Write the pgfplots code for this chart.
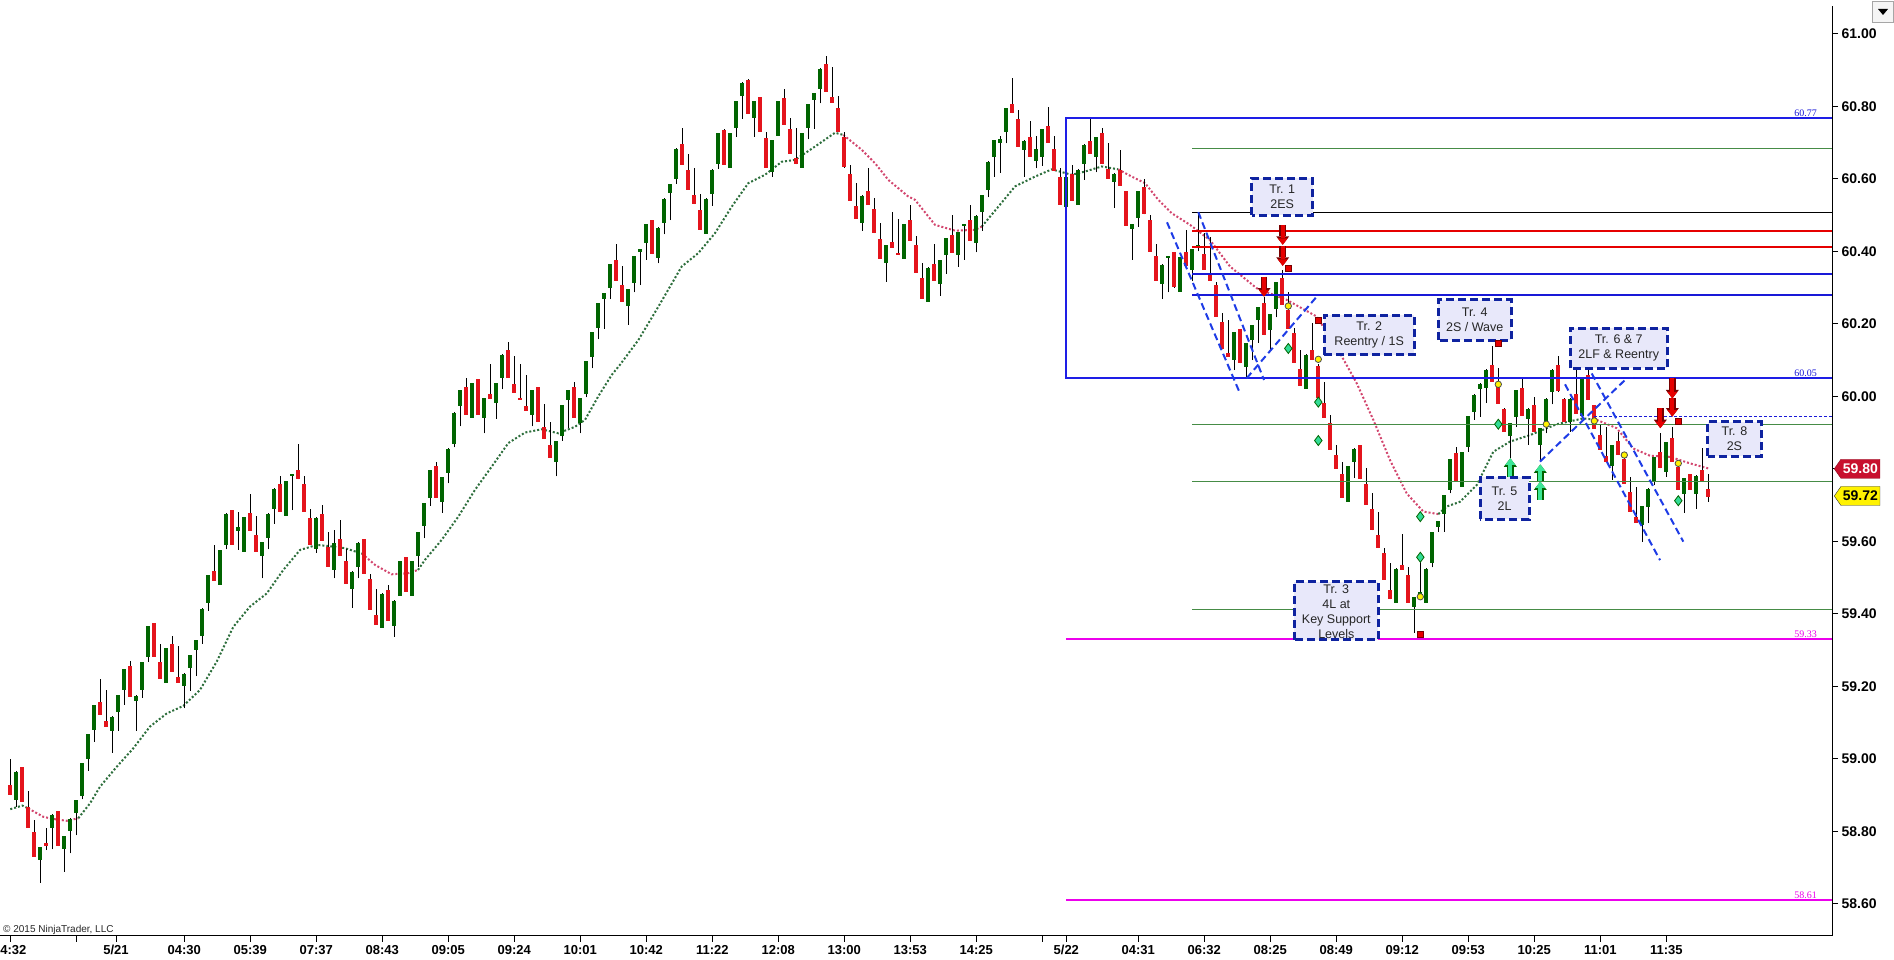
\documentclass[border=0pt]{standalone}
\usepackage{pgfplots}
\pgfplotsset{compat=1.18}
\usepackage{pgfplotstable}
\usepackage{fontspec}
\setmainfont{Liberation Sans}
\newfontfamily\serifsmall{Liberation Serif}
\usetikzlibrary{arrows.meta,shapes.symbols}
\definecolor{upg}{RGB}{0,100,0}
\definecolor{dnr}{RGB}{228,20,28}
\definecolor{boxb}{RGB}{30,30,230}
\definecolor{hblue}{RGB}{25,25,215}
\definecolor{hred}{RGB}{230,0,0}
\definecolor{hgreen}{RGB}{70,140,70}
\definecolor{mag}{RGB}{236,0,236}
\definecolor{magreen}{RGB}{45,110,60}
\definecolor{mared}{RGB}{210,70,110}
\definecolor{trbord}{RGB}{15,35,160}
\definecolor{trfill}{RGB}{232,232,250}
\definecolor{trend}{RGB}{30,60,230}
\definecolor{diam}{RGB}{50,220,150}
\definecolor{arrg}{RGB}{60,230,150}
\definecolor{tagred}{RGB}{200,16,46}
\definecolor{darkred}{RGB}{120,0,0}

\pgfplotstableread{
x o h l c
10.3 58.928 58.999 58.900 58.900
16.3 58.889 58.966 58.868 58.966
22.3 58.978 58.978 58.882 58.882
28.3 58.866 58.911 58.810 58.810
34.3 58.799 58.831 58.730 58.730
40.3 58.721 58.757 58.658 58.757
46.3 58.768 58.809 58.748 58.760
52.3 58.810 58.847 58.750 58.847
58.3 58.856 58.856 58.759 58.759
64.3 58.753 58.787 58.689 58.787
70.3 58.802 58.836 58.739 58.836
76.3 58.851 58.886 58.789 58.886
82.3 58.900 58.989 58.888 58.989
88.3 58.999 59.068 58.967 59.068
94.3 59.079 59.148 59.047 59.148
100.3 59.156 59.220 59.121 59.121
106.3 59.107 59.190 59.090 59.090
112.3 59.079 59.118 59.017 59.118
118.3 59.130 59.176 59.078 59.176
124.3 59.190 59.248 59.149 59.248
130.3 59.256 59.270 59.171 59.171
136.3 59.160 59.175 59.078 59.175
142.3 59.190 59.267 59.169 59.267
148.3 59.282 59.366 59.268 59.366
154.3 59.376 59.376 59.282 59.282
160.3 59.267 59.318 59.221 59.221
166.3 59.210 59.307 59.210 59.307
172.3 59.317 59.339 59.240 59.240
178.3 59.228 59.311 59.210 59.210
184.3 59.202 59.236 59.139 59.236
190.3 59.251 59.286 59.188 59.286
196.3 59.300 59.328 59.228 59.328
202.3 59.340 59.415 59.318 59.415
208.3 59.431 59.507 59.408 59.507
214.3 59.519 59.590 59.491 59.491
220.3 59.481 59.576 59.481 59.576
226.3 59.590 59.677 59.578 59.677
232.3 59.686 59.686 59.590 59.590
238.3 59.630 59.682 59.576 59.640
244.3 59.571 59.668 59.571 59.668
250.3 59.677 59.730 59.629 59.629
256.3 59.618 59.670 59.571 59.571
262.3 59.560 59.598 59.498 59.598
268.3 59.610 59.677 59.578 59.677
274.3 59.689 59.746 59.649 59.746
280.3 59.758 59.780 59.682 59.682
286.3 59.671 59.766 59.671 59.766
292.3 59.782 59.786 59.686 59.786
298.3 59.797 59.868 59.771 59.771
304.3 59.758 59.780 59.682 59.682
310.3 59.666 59.688 59.590 59.590
316.3 59.579 59.666 59.568 59.666
322.3 59.677 59.700 59.602 59.602
328.3 59.585 59.627 59.530 59.530
334.3 59.521 59.631 59.498 59.597
340.3 59.607 59.659 59.561 59.561
346.3 59.546 59.578 59.482 59.482
352.3 59.469 59.518 59.417 59.518
358.3 59.530 59.597 59.498 59.597
364.3 59.607 59.607 59.512 59.512
370.3 59.496 59.509 59.411 59.411
376.3 59.397 59.469 59.371 59.371
382.3 59.363 59.457 59.363 59.457
388.3 59.466 59.480 59.381 59.381
394.3 59.369 59.438 59.337 59.438
400.3 59.450 59.546 59.450 59.546
406.3 59.556 59.556 59.461 59.461
412.3 59.450 59.546 59.450 59.546
418.3 59.561 59.626 59.530 59.626
424.3 59.641 59.705 59.608 59.705
430.3 59.721 59.797 59.698 59.797
436.3 59.808 59.819 59.721 59.721
442.3 59.710 59.778 59.679 59.778
448.3 59.790 59.857 59.760 59.857
454.3 59.870 59.956 59.859 59.956
460.3 59.972 60.018 59.917 60.018
466.3 60.027 60.050 59.949 59.949
472.3 59.941 60.036 59.941 60.036
478.3 60.047 60.047 59.949 59.949
484.3 59.941 59.995 59.898 59.995
490.3 60.007 60.089 59.992 59.992
496.3 59.981 60.036 59.938 60.036
502.3 60.052 60.116 60.019 60.116
508.3 60.128 60.149 60.052 60.052
514.3 60.036 60.110 60.010 60.010
520.3 59.995 60.089 59.992 59.992
526.3 59.976 60.059 59.961 59.961
532.3 59.949 60.018 59.917 60.018
538.3 60.027 60.027 59.930 59.930
544.3 59.915 59.979 59.882 59.882
550.3 59.866 59.928 59.831 59.831
556.3 59.820 59.877 59.779 59.877
562.3 59.892 59.976 59.878 59.976
568.3 59.990 60.018 59.912 60.018
574.3 60.027 60.039 59.941 59.941
580.3 59.928 59.995 59.898 59.995
586.3 60.008 60.098 59.997 60.098
592.3 60.110 60.177 60.077 60.177
598.3 60.190 60.257 60.157 60.257
604.3 60.269 60.286 60.186 60.286
610.3 60.300 60.365 60.268 60.365
616.3 60.376 60.420 60.319 60.319
622.3 60.307 60.360 60.261 60.261
628.3 60.250 60.296 60.197 60.296
634.3 60.312 60.387 60.287 60.387
640.3 60.399 60.406 60.307 60.406
646.3 60.422 60.475 60.376 60.475
652.3 60.486 60.486 60.392 60.392
658.3 60.381 60.466 60.367 60.466
664.3 60.480 60.546 60.447 60.546
670.3 60.560 60.586 60.486 60.586
676.3 60.601 60.684 60.586 60.684
682.3 60.696 60.739 60.640 60.640
688.3 60.626 60.668 60.571 60.571
694.3 60.555 60.629 60.530 60.530
700.3 60.516 60.557 60.461 60.461
706.3 60.450 60.546 60.450 60.546
712.3 60.558 60.626 60.526 60.626
718.3 60.640 60.726 60.627 60.726
724.3 60.737 60.737 60.640 60.640
730.3 60.632 60.726 60.632 60.726
736.3 60.742 60.815 60.716 60.815
742.3 60.829 60.866 60.765 60.866
748.3 60.874 60.874 60.781 60.781
754.3 60.769 60.815 60.716 60.815
760.3 60.825 60.825 60.730 60.730
766.3 60.714 60.728 60.631 60.631
772.3 60.620 60.707 60.606 60.707
778.3 60.719 60.815 60.719 60.815
784.3 60.825 60.848 60.750 60.750
790.3 60.737 60.767 60.670 60.670
796.3 60.657 60.739 60.640 60.640
802.3 60.631 60.726 60.631 60.726
808.3 60.742 60.806 60.709 60.806
814.3 60.817 60.836 60.738 60.836
820.3 60.850 60.905 60.808 60.905
826.3 60.917 60.939 60.840 60.840
832.3 60.825 60.908 60.810 60.810
838.3 60.794 60.829 60.730 60.730
844.3 60.716 60.730 60.631 60.631
850.3 60.615 60.638 60.539 60.539
856.3 60.525 60.588 60.491 60.491
862.3 60.479 60.554 60.456 60.554
868.3 60.566 60.629 60.528 60.528
874.3 60.516 60.548 60.450 60.450
880.3 60.436 60.477 60.379 60.379
886.3 60.369 60.417 60.316 60.417
892.3 60.427 60.508 60.410 60.410
898.3 60.396 60.488 60.392 60.392
904.3 60.379 60.475 60.379 60.475
910.3 60.487 60.528 60.430 60.430
916.3 60.418 60.441 60.341 60.341
922.3 60.326 60.367 60.269 60.269
928.3 60.261 60.356 60.261 60.356
934.3 60.365 60.420 60.319 60.319
940.3 60.310 60.376 60.278 60.376
946.3 60.390 60.436 60.338 60.436
952.3 60.445 60.500 60.397 60.397
958.3 60.390 60.454 60.358 60.454
964.3 60.471 60.475 60.376 60.475
970.3 60.487 60.528 60.430 60.430
976.3 60.422 60.499 60.397 60.499
982.3 60.510 60.556 60.457 60.556
988.3 60.569 60.648 60.549 60.648
994.3 60.661 60.707 60.606 60.707
1000.3 60.700 60.718 60.617 60.710
1006.3 60.730 60.795 60.698 60.795
1012.3 60.808 60.879 60.781 60.781
1018.3 60.765 60.790 60.689 60.689
1024.3 60.682 60.707 60.606 60.707
1030.3 60.715 60.760 60.661 60.661
1036.3 60.650 60.718 60.629 60.684
1042.3 60.661 60.737 60.636 60.737
1048.3 60.746 60.799 60.700 60.700
1054.3 60.684 60.718 60.622 60.622
1060.3 60.606 60.629 60.530 60.530
1066.3 60.523 60.606 60.523 60.606
1072.3 60.615 60.638 60.540 60.540
1078.3 60.530 60.626 60.530 60.626
1084.3 60.640 60.695 60.597 60.695
1090.3 60.707 60.764 60.670 60.670
1096.3 60.661 60.715 60.618 60.715
1102.3 60.726 60.740 60.640 60.640
1108.3 60.629 60.698 60.602 60.602
1114.3 60.591 60.615 60.519 60.615
1120.3 60.625 60.680 60.581 60.581
1126.3 60.567 60.567 60.471 60.471
1132.3 60.461 60.475 60.376 60.475
1138.3 60.491 60.567 60.468 60.567
1144.3 60.577 60.600 60.502 60.502
1150.3 60.487 60.500 60.399 60.399
1156.3 60.387 60.420 60.319 60.319
1162.3 60.310 60.365 60.268 60.365
1168.3 60.381 60.387 60.287 60.387
1174.3 60.397 60.397 60.300 60.300
1180.3 60.289 60.385 60.289 60.385
1186.3 60.397 60.459 60.358 60.358
1192.3 60.349 60.407 60.317 60.407
1198.3 60.412 60.508 60.400 60.418
1204.3 60.395 60.450 60.350 60.350
1210.3 60.335 60.440 60.319 60.319
1216.3 60.307 60.316 60.220 60.220
1222.3 60.206 60.229 60.132 60.132
1228.3 60.119 60.211 60.110 60.110
1234.3 60.100 60.177 60.072 60.177
1240.3 60.185 60.185 60.091 60.091
1246.3 60.082 60.146 60.050 60.146
1252.3 60.155 60.197 60.100 60.197
1258.3 60.211 60.246 60.148 60.246
1264.3 60.257 60.275 60.169 60.169
1270.3 60.183 60.227 60.128 60.227
1276.3 60.243 60.315 60.218 60.315
1282.3 60.326 60.349 60.252 60.252
1288.3 60.240 60.289 60.188 60.188
1294.3 60.176 60.188 60.093 60.093
1300.3 60.077 60.128 60.029 60.029
1306.3 60.022 60.116 60.022 60.116
1312.3 60.128 60.202 60.100 60.100
1318.3 60.086 60.090 59.997 59.997
1324.3 59.981 60.040 59.942 59.942
1330.3 59.926 59.949 59.852 59.852
1336.3 59.838 59.866 59.801 59.801
1342.3 59.788 59.820 59.721 59.721
1348.3 59.709 59.808 59.709 59.808
1354.3 59.820 59.857 59.774 59.857
1360.3 59.866 59.866 59.771 59.771
1366.3 59.760 59.801 59.702 59.702
1372.3 59.688 59.732 59.630 59.630
1378.3 59.618 59.682 59.581 59.581
1384.3 59.569 59.581 59.495 59.495
1390.3 59.466 59.541 59.440 59.440
1396.3 59.431 59.526 59.431 59.526
1402.3 59.537 59.620 59.521 59.521
1408.3 59.507 59.530 59.431 59.431
1414.3 59.420 59.446 59.348 59.446
1420.3 59.440 59.558 59.440 59.460
1426.3 59.431 59.526 59.431 59.526
1432.3 59.539 59.627 59.528 59.627
1438.3 59.640 59.657 59.627 59.657
1444.3 59.675 59.728 59.627 59.728
1450.3 59.742 59.826 59.732 59.826
1456.3 59.843 59.861 59.765 59.765
1462.3 59.751 59.845 59.751 59.845
1468.3 59.861 59.946 59.847 59.946
1474.3 59.959 60.005 59.935 60.005
1480.3 60.020 60.036 59.944 60.036
1486.3 60.024 60.074 59.981 60.074
1492.3 60.086 60.139 60.040 60.040
1498.3 60.031 60.077 59.981 59.981
1504.3 59.967 59.967 59.902 59.902
1510.3 59.891 59.925 59.829 59.925
1516.3 59.944 60.017 59.916 60.017
1522.3 60.024 60.047 59.948 59.948
1528.3 59.939 59.967 59.867 59.967
1534.3 59.976 59.999 59.902 59.902
1540.3 59.867 59.913 59.820 59.913
1546.3 59.921 59.994 59.898 59.994
1552.3 60.013 60.074 59.978 60.074
1558.3 60.086 60.111 60.013 60.013
1564.3 59.994 59.994 59.930 59.930
1570.3 59.930 59.994 59.902 59.994
1576.3 60.008 60.072 59.953 59.953
1582.3 59.946 60.047 59.946 60.047
1588.3 60.059 60.072 59.990 59.990
1594.3 59.976 59.976 59.912 59.912
1600.3 59.895 59.921 59.852 59.852
1606.3 59.836 59.916 59.820 59.820
1612.3 59.810 59.866 59.769 59.866
1618.3 59.877 59.902 59.838 59.838
1624.3 59.829 59.843 59.760 59.760
1630.3 59.737 59.778 59.682 59.682
1636.3 59.668 59.751 59.651 59.651
1642.3 59.645 59.697 59.599 59.697
1648.3 59.695 59.746 59.650 59.746
1654.3 59.764 59.833 59.755 59.833
1660.3 59.847 59.898 59.801 59.801
1666.3 59.792 59.875 59.778 59.875
1672.3 59.886 59.916 59.820 59.820
1678.3 59.806 59.806 59.742 59.742
1684.3 59.732 59.775 59.679 59.775
1690.3 59.785 59.785 59.742 59.742
1696.3 59.732 59.783 59.689 59.783
1702.3 59.797 59.858 59.767 59.767
1708.3 59.746 59.787 59.709 59.723
}\candles

\pgfplotstableread{
x y u v
1264.0 60.330 0 -0.055
1282.7 60.473 0 -0.055
1282.7 60.415 0 -0.055
1660.3 59.967 0 -0.055
1672.3 60.050 0 -0.056
1672.3 59.994 0 -0.050
}\downarrows

\pgfplotstableread{
x y u v
1510.3 59.776 0 0.053
1540.3 59.765 0 0.047
1540.3 59.714 0 0.051
}\uparrows

\begin{document}
\begin{tikzpicture}
\path[use as bounding box] (0pt,-24pt) rectangle (1894pt,936pt);
\begin{axis}[
  at={(0pt,0pt)}, anchor=south west,
  scale only axis, width=1832pt, height=930pt,
  xmin=0, xmax=1832, ymin=58.5112, ymax=61.0767,
  axis x line*=bottom, axis y line*=right,
  axis line style={-, line width=1pt, black},
  clip=false,
  tick align=outside, major tick length=6pt,
  tick style={black, line width=1pt},
  xtick={10.3,76.3,116,184.3,250.3,316.3,382.3,448.3,514.3,580.3,646.3,712.3,778.3,844.3,910.3,976.3,1042.3,1066.3,1138.3,1204.3,1270.3,1336.3,1402.3,1468.3,1534.3,1600.3,1666.3},
  xticklabels={\makebox[0pt][l]{\hspace*{-10pt}4:32},{},5/21,04:30,05:39,07:37,08:43,09:05,09:24,10:01,10:42,11:22,12:08,13:00,13:53,14:25,{},5/22,04:31,06:32,08:25,08:49,09:12,09:53,10:25,11:01,11:35},
  ytick={58.6,58.8,59,59.2,59.4,59.6,59.8,60,60.2,60.4,60.6,60.8,61},
  yticklabels={58.60,58.80,59.00,59.20,59.40,59.60,{},60.00,60.20,60.40,60.60,60.80,61.00},
  xticklabel style={font=\bfseries\fontsize{13}{13}\selectfont},
  yticklabel style={font=\bfseries\fontsize{14}{14}\selectfont},
]
% moving average (dotted)
\addplot[forget plot, magreen, line width=2pt, dash pattern=on 2pt off 2pt] coordinates {(10.3,58.861) (22.3,58.871) (28.3,58.863)};
\addplot[forget plot, mared, line width=2pt, dash pattern=on 2pt off 2pt] coordinates {(28.3,58.863) (43.3,58.840) (53.3,58.834) (66.7,58.829) (78.3,58.836)};
\addplot[forget plot, magreen, line width=2pt, dash pattern=on 2pt off 2pt] coordinates {(78.3,58.836) (90,58.877) (100,58.923) (116.7,58.978) (133.3,59.029) (150,59.089) (166.7,59.125) (183.3,59.146) (200,59.190) (216.7,59.268) (233.3,59.364) (250,59.420) (266.7,59.456) (283.3,59.521) (300,59.576) (316.7,59.590) (328.3,59.587) (345,59.581) (362,59.566)};
\addplot[forget plot, mared, line width=2pt, dash pattern=on 2pt off 2pt] coordinates {(362,59.566) (375,59.535) (391.7,59.509) (408.3,59.512) (418,59.521)};
\addplot[forget plot, magreen, line width=2pt, dash pattern=on 2pt off 2pt] coordinates {(418,59.521) (425,59.549) (441.7,59.604) (458.3,59.668) (475,59.742) (491.7,59.806) (508.3,59.871) (525,59.900) (541.7,59.909) (558.3,59.898) (575,59.916) (585,59.935) (598.3,60.0) (611.7,60.059) (620,60.087) (638.3,60.155) (658.3,60.247) (681.7,60.358) (698.3,60.395) (715,60.450) (731.7,60.523) (748.3,60.588) (765,60.611) (781.7,60.647) (795,60.652) (815,60.689) (835,60.727) (843.3,60.721)};
\addplot[forget plot, mared, line width=2pt, dash pattern=on 2pt off 2pt] coordinates {(843.3,60.721) (861.7,60.680) (875,60.643) (888.3,60.597) (908.3,60.551) (915,60.542) (935,60.473) (955,60.457) (975,60.459) (981.7,60.468)};
\addplot[forget plot, magreen, line width=2pt, dash pattern=on 2pt off 2pt] coordinates {(981.7,60.468) (998.3,60.523) (1015,60.579) (1035,60.606) (1051.7,60.626) (1071.7,60.611) (1085,60.620) (1101.7,60.634) (1118.3,60.626)};
\addplot[forget plot, mared, line width=2pt, dash pattern=on 2pt off 2pt] coordinates {(1118.3,60.626) (1131.7,60.606) (1145,60.588) (1158.3,60.542) (1171.7,60.505) (1190,60.473) (1210,60.431) (1230,60.358) (1256.7,60.298) (1286.7,60.266) (1316.7,60.220) (1340,60.119) (1356.7,60.036) (1373.3,59.935) (1390,59.824) (1406.7,59.732) (1423.3,59.682) (1438.3,59.675)};
\addplot[forget plot, magreen, line width=2pt, dash pattern=on 2pt off 2pt] coordinates {(1438.3,59.675) (1446.7,59.696) (1460,59.709) (1476.7,59.755) (1493.3,59.847) (1510,59.875) (1530,59.893) (1556.7,59.923) (1583.3,59.939) (1596.7,59.935)};
\addplot[forget plot, mared, line width=2pt, dash pattern=on 2pt off 2pt] coordinates {(1596.7,59.935) (1616.7,59.912) (1633.3,59.856) (1650,59.836) (1670,59.833) (1690,59.815) (1708.3,59.801)};

% candle wicks
\addplot[forget plot, draw=none, no markers,
  error bars/.cd, y dir=plus, y explicit, error mark=none,
  error bar style={draw=black, line width=1pt}]
  table[x=x, y=l, y error plus expr=\thisrow{h}-\thisrow{l}] {\candles};
% up bodies
\addplot[forget plot, draw=none, no markers,
  restrict expr to domain={\thisrow{c}-\thisrow{o}}{0:10}, unbounded coords=discard,
  error bars/.cd, y dir=both, y explicit, error mark=none,
  error bar style={draw=upg, line width=4.2pt}]
  table[x=x, y expr=(\thisrow{o}+\thisrow{c})/2, y error expr={max(abs(\thisrow{c}-\thisrow{o})/2,0.0015)}] {\candles};
% down bodies
\addplot[forget plot, draw=none, no markers,
  restrict expr to domain={\thisrow{o}-\thisrow{c}}{0.0001:10}, unbounded coords=discard,
  error bars/.cd, y dir=both, y explicit, error mark=none,
  error bar style={draw=dnr, line width=4.2pt}]
  table[x=x, y expr=(\thisrow{o}+\thisrow{c})/2, y error expr={max(abs(\thisrow{c}-\thisrow{o})/2,0.0015)}] {\candles};

% horizontal levels
\addplot[forget plot, boxb, line width=2pt] coordinates {(1832,60.050) (1066.3,60.050) (1066.3,60.767) (1832,60.767)};
\addplot[forget plot, mag, line width=2pt] coordinates {(1066.3,59.330) (1832,59.330)};
\addplot[forget plot, mag, line width=2pt] coordinates {(1066.3,58.610) (1832,58.610)};
\addplot[forget plot, hgreen, line width=1pt] coordinates {(1192,60.684) (1832,60.684)};
\addplot[forget plot, hgreen, line width=1pt] coordinates {(1192,59.923) (1832,59.923)};
\addplot[forget plot, hgreen, line width=1pt] coordinates {(1192,59.766) (1832,59.766)};
\addplot[forget plot, hgreen, line width=1pt] coordinates {(1192,59.411) (1832,59.411)};
\addplot[forget plot, black, line width=1pt] coordinates {(1192,60.508) (1832,60.508)};
\addplot[forget plot, hred, line width=2pt] coordinates {(1192,60.457) (1832,60.457)};
\addplot[forget plot, hred, line width=2pt] coordinates {(1192,60.413) (1832,60.413)};
\addplot[forget plot, hblue, line width=2pt] coordinates {(1192,60.336) (1832,60.336)};
\addplot[forget plot, hblue, line width=2pt] coordinates {(1192,60.280) (1832,60.280)};
\addplot[forget plot, hblue, line width=1pt, dash pattern=on 3pt off 2pt] coordinates {(1594,59.944) (1832,59.944)};

% trend lines
\addplot[forget plot, trend, line width=2pt, dash pattern=on 7pt off 4pt] coordinates {(1167,60.48) (1240,60.008)};
\addplot[forget plot, trend, line width=2pt, dash pattern=on 7pt off 4pt] coordinates {(1198.3,60.508) (1264,60.045)};
\addplot[forget plot, trend, line width=2pt, dash pattern=on 7pt off 4pt] coordinates {(1246.7,60.05) (1318.3,60.28)};
\addplot[forget plot, trend, line width=2pt, dash pattern=on 7pt off 4pt] coordinates {(1565,60.033) (1660,59.548)};
\addplot[forget plot, trend, line width=2pt, dash pattern=on 7pt off 4pt] coordinates {(1591.7,60.063) (1683.3,59.599)};
\addplot[forget plot, trend, line width=2pt, dash pattern=on 7pt off 4pt] coordinates {(1540,59.820) (1625,60.045)};

% arrows
\addplot[forget plot, quiver={u=\thisrow{u},v=\thisrow{v}}, -{Triangle[width=13pt,length=8.5pt,line width=0pt]}, line width=6.5pt, draw=darkred] table {\downarrows};
\addplot[forget plot, quiver={u=\thisrow{u},v=\thisrow{v}}, -{Triangle[width=10pt,length=6.5pt,line width=0pt]}, line width=4pt, draw=hred] table {\downarrows};
\addplot[forget plot, quiver={u=\thisrow{u},v=\thisrow{v}}, -{Triangle[width=13pt,length=8.5pt,line width=0pt]}, line width=6.5pt, draw=upg] table {\uparrows};
\addplot[forget plot, quiver={u=\thisrow{u},v=\thisrow{v}}, -{Triangle[width=10pt,length=6.5pt,line width=0pt]}, line width=4pt, draw=arrg] table {\uparrows};

% signal markers
\addplot[forget plot, only marks, mark=square*, mark size=3pt, mark options={fill=hred, draw=darkred, line width=0.8pt}] coordinates {(1288.3,60.353) (1318.3,60.209) (1420.3,59.342) (1498.3,60.146) (1678.3,59.930)};
\addplot[forget plot, only marks, mark=*, mark size=3.2pt, mark options={fill=yellow, draw=black!70, line width=0.8pt}] coordinates {(1288.3,60.249) (1318.3,60.102) (1420.3,59.447) (1498.3,60.033) (1546.3,59.923) (1594.3,59.932) (1624.3,59.838) (1678.3,59.815)};
\addplot[forget plot, only marks, mark=diamond*, mark size=5pt, mark options={fill=diam, draw=upg, line width=0.8pt}] coordinates {(1288.3,60.132) (1318.3,59.984) (1318.3,59.878) (1420.3,59.668) (1420.3,59.556) (1498.3,59.923) (1678.3,59.712)};

% level price texts
\node[anchor=south east, inner sep=1pt, font=\serifsmall\fontsize{10}{10}\selectfont, text=hblue] at (axis cs:1818,60.767) {60.77};
\node[anchor=south east, inner sep=1pt, font=\serifsmall\fontsize{10}{10}\selectfont, text=hblue] at (axis cs:1818,60.050) {60.05};
\node[anchor=south east, inner sep=1pt, font=\serifsmall\fontsize{10}{10}\selectfont, text=mag] at (axis cs:1818,59.330) {59.33};
\node[anchor=south east, inner sep=1pt, font=\serifsmall\fontsize{10}{10}\selectfont, text=mag] at (axis cs:1818,58.610) {58.61};

% trade boxes
\tikzset{trb/.style={draw=trbord, line width=3pt, dash pattern=on 8pt off 4pt},
         trt/.style={align=center, font=\fontsize{12.5}{15}\selectfont, text=black!85, inner sep=0pt}}
\fill[trfill] (axis cs:1251.7,60.500) rectangle (axis cs:1312.7,60.601);
\node[trt] at (axis cs:1282.2,60.5505) {Tr. 1\\2ES};
\draw[trb] (axis cs:1251.7,60.500) rectangle (axis cs:1312.7,60.601);
\fill[trfill] (axis cs:1324,60.114) rectangle (axis cs:1414.3,60.224);
\node[trt] at (axis cs:1369.2,60.169) {Tr. 2\\Reentry / 1S};
\draw[trb] (axis cs:1324,60.114) rectangle (axis cs:1414.3,60.224);
\fill[trfill] (axis cs:1294.3,59.328) rectangle (axis cs:1378.3,59.489);
\node[trt, anchor=north] at (axis cs:1336.3,59.480) {Tr. 3\\4L at\\Key Support\\Levels};
\draw[trb] (axis cs:1294.3,59.328) rectangle (axis cs:1378.3,59.489);
\fill[trfill] (axis cs:1438.3,60.155) rectangle (axis cs:1511,60.266);
\node[trt] at (axis cs:1474.7,60.2105) {Tr. 4\\2S / Wave};
\draw[trb] (axis cs:1438.3,60.155) rectangle (axis cs:1511,60.266);
\fill[trfill] (axis cs:1480,59.661) rectangle (axis cs:1529,59.776);
\node[trt] at (axis cs:1504.5,59.7185) {Tr. 5\\2L};
\draw[trb] (axis cs:1480,59.661) rectangle (axis cs:1529,59.776);
\fill[trfill] (axis cs:1570,60.077) rectangle (axis cs:1667.3,60.188);
\node[trt] at (axis cs:1618.7,60.1325) {Tr. 6 \& 7\\2LF \& Reentry};
\draw[trb] (axis cs:1570,60.077) rectangle (axis cs:1667.3,60.188);
\fill[trfill] (axis cs:1707.7,59.835) rectangle (axis cs:1761,59.930);
\node[trt] at (axis cs:1734.4,59.8825) {Tr. 8\\2S};
\draw[trb] (axis cs:1707.7,59.835) rectangle (axis cs:1761,59.930);

% price tags
\node[signal, signal to=west, signal pointer angle=110, fill=tagred, draw=tagred!70!black, text=white,
  font=\bfseries\fontsize{14}{14}\selectfont, inner sep=2pt, minimum height=19pt, anchor=west] at (axis cs:1834,59.80) {59.80};
\node[signal, signal to=west, signal pointer angle=110, fill=yellow, draw=black!80, text=black,
  font=\bfseries\fontsize{14}{14}\selectfont, inner sep=2pt, minimum height=19pt, anchor=west] at (axis cs:1834,59.725) {59.72};

% copyright
\node[anchor=south west, inner sep=1pt, font=\fontsize{10}{10}\selectfont, text=black!85] at (axis cs:2,58.5112) {\textcopyright{} 2015 NinjaTrader, LLC};
\end{axis}
% dropdown button
\draw[gray!70, fill=gray!8, line width=0.8pt] (1872pt,914pt) rectangle (1893pt,935pt);
\fill[black] (1878pt,927pt) -- (1888pt,927pt) -- (1883pt,921pt) -- cycle;
\end{tikzpicture}
\end{document}
